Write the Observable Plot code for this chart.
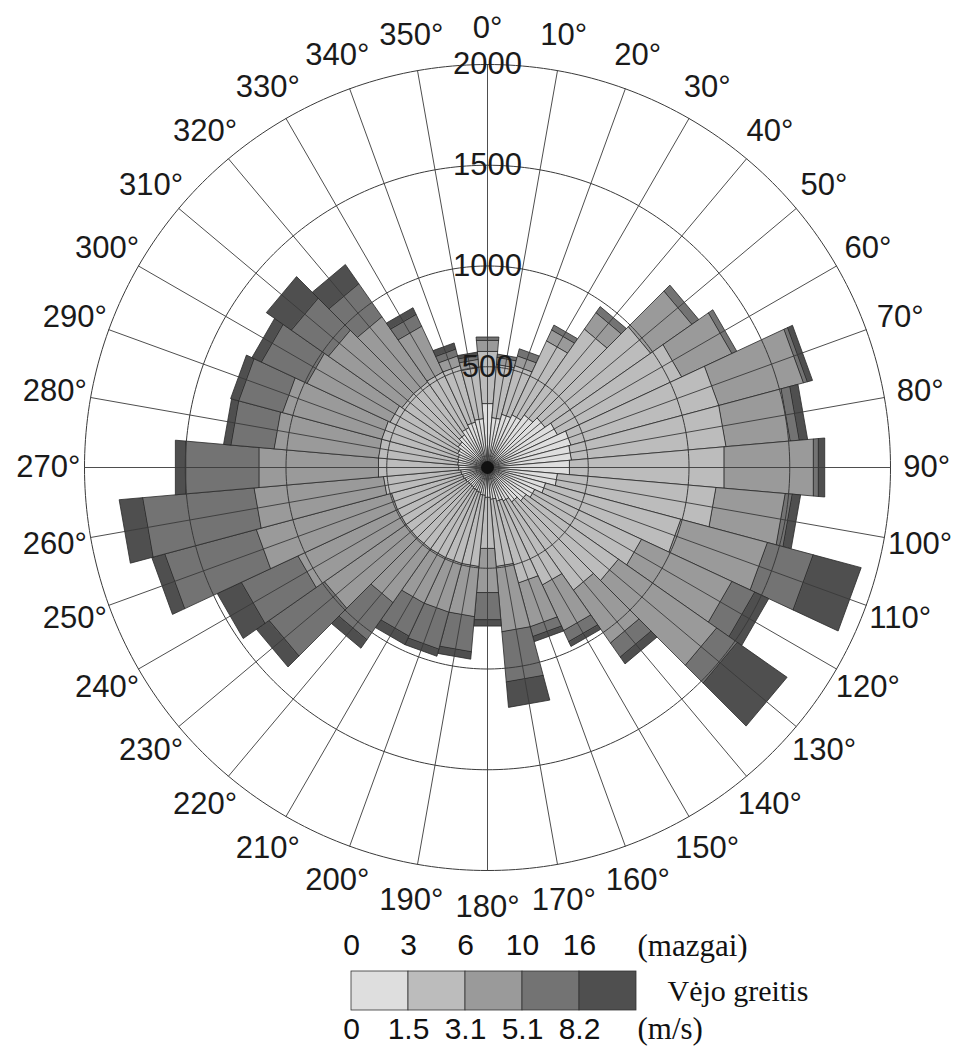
<!DOCTYPE html>
<html><head><meta charset="utf-8">
<script src="https://cdn.jsdelivr.net/npm/d3@7"></script>
<script src="https://cdn.jsdelivr.net/npm/@observablehq/plot@0.6"></script>
<style>
html,body{margin:0;padding:0;background:#fff;}
#chart svg{display:block;}
</style></head><body><div id="chart"></div>
<script>
// Wind directions (degrees, clockwise from north)
const directions = [0,10,20,30,40,50,60,70,80,90,100,110,120,130,140,150,160,170,180,190,200,210,220,230,240,250,260,270,280,290,300,310,320,330,340,350];
// Wind speed classes (knots)
const speedClasses = ["0–3","3–6","6–10","10–16","≥16"];
// Counts per direction for each speed class
const s0_3   = [320,250,275,290,320,350,385,430,420,410,350,300,260,235,210,185,175,160,150,140,130,125,120,120,125,130,135,145,150,155,165,180,200,220,235,245];
const s3_6   = [260,265,250,405,520,640,680,760,770,770,790,695,585,560,535,460,420,335,255,355,365,370,375,375,370,365,385,400,395,390,370,340,320,305,290,255];
const s6_10  = [55,35,50,60,100,250,275,435,320,445,345,445,495,595,320,250,225,325,220,250,250,250,325,495,545,695,645,595,520,510,455,445,395,250,50,40];
const s10_16 = [15,15,35,25,35,40,25,20,45,25,35,235,125,125,85,60,50,250,135,175,190,180,225,335,310,470,555,365,215,225,250,225,200,65,35,20];
const s16up  = [0,0,0,0,0,0,0,25,40,30,40,245,75,300,40,25,25,125,30,35,35,45,50,75,130,65,115,50,35,40,50,150,115,35,30,15];
const series = [s0_3, s3_6, s6_10, s10_16, s16up];
// Radial ticks and legend tick labels
const radialTicks = [500,1000,1500,2000];
const knotTicks = ["0","3","6","10","16"];
const msTicks = ["0","1.5","3.1","5.1","8.2"];

const colors = ["#dedede","#bcbcbc","#9a9a9a","#737373","#4f4f4f"];
const rMax = 2000;
const labelR = rMax * 1.09;
const half = 5;
const rad = d => d * Math.PI / 180;
const pt = (deg, r) => [r * Math.sin(rad(deg)), r * Math.cos(rad(deg))];

const segments = [];
directions.forEach((d, i) => {
  let r0 = 0;
  series.forEach((s, k) => {
    const r1 = r0 + s[i];
    if (s[i] > 0) segments.push({
      type: "Feature", properties: {dir: d, cls: speedClasses[k]},
      geometry: {type: "Polygon", coordinates: [[pt(d - half, r0), pt(d - half, r1), pt(d + half, r1), pt(d + half, r0), pt(d - half, r0)]]}
    });
    r0 = r1;
  });
});
const circles = radialTicks.map(t => ({type: "LineString", coordinates: d3.range(0, 361, 1).map(a => pt(a, t))}));
const spokes = directions.map(d => ({type: "LineString", coordinates: [pt(d, 0), pt(d, rMax)]}));

const sans = "'Liberation Sans', Arial, sans-serif";
const serif = "'Liberation Serif', 'Times New Roman', serif";

const main = Plot.plot({
  width: 961, height: 925,
  marginLeft: 84, marginRight: 71, marginTop: 64, marginBottom: 55,
  projection: {type: "reflect-y", domain: {type: "MultiPoint", coordinates: [[-rMax, -rMax], [rMax, rMax]]}, clip: false},
  color: {domain: speedClasses, range: colors},
  style: {fontFamily: sans, background: "white", overflow: "visible"},
  marks: [
    Plot.geo(segments, {fill: d => d.properties.cls, stroke: "#2a2a2a", strokeWidth: 0.8}),
    Plot.geo(circles, {stroke: "#3a3a3a", strokeWidth: 1}),
    Plot.geo(spokes, {stroke: "#3a3a3a", strokeWidth: 0.9}),
    Plot.dot([0], {x: () => 0, y: () => 0, r: 6.5, fill: "#111"}),
    Plot.text(radialTicks, {x: () => 0, y: d => d, text: d => String(d), fontSize: 31, fill: "#1a1a1a"}),
    Plot.text(directions, {x: d => pt(d, labelR)[0], y: d => pt(d, labelR)[1], text: d => d + "°", fontSize: 31, fill: "#1a1a1a"})
  ]
});

const legend = Plot.plot({
  width: 961, height: 130,
  marginLeft: 351, marginRight: 325, marginTop: 46, marginBottom: 45,
  x: {domain: [0, 5], axis: null},
  y: {domain: [0, 1], axis: null},
  color: {domain: speedClasses, range: colors},
  style: {fontFamily: sans, background: "white", overflow: "visible"},
  marks: [
    Plot.rect(speedClasses, {x1: (d, i) => i, x2: (d, i) => i + 1, y1: () => 0, y2: () => 1, fill: d => d, stroke: "#333", strokeWidth: 0.8}),
    Plot.text(knotTicks, {x: (d, i) => i, y: () => 1, dy: -26, text: d => d, fontSize: 30, fill: "#111"}),
    Plot.text(msTicks, {x: (d, i) => i, y: () => 0, dy: 19, text: d => d, fontSize: 30, fill: "#111"}),
    Plot.text(["(mazgai)"], {x: () => 5, y: () => 1, dy: -25, dx: 1, text: d => d, textAnchor: "start", fontFamily: serif, fontSize: 31, fill: "#111"}),
    Plot.text(["Vėjo greitis"], {x: () => 5, y: () => 0.5, dx: 31, text: d => d, textAnchor: "start", fontFamily: serif, fontSize: 30, fill: "#111"}),
    Plot.text(["(m/s)"], {x: () => 5, y: () => 0, dy: 19, dx: 1, text: d => d, textAnchor: "start", fontFamily: serif, fontSize: 31, fill: "#111"})
  ]
});

const host = document.getElementById("chart");
host.appendChild(main);
host.appendChild(legend);
</script></body></html>
